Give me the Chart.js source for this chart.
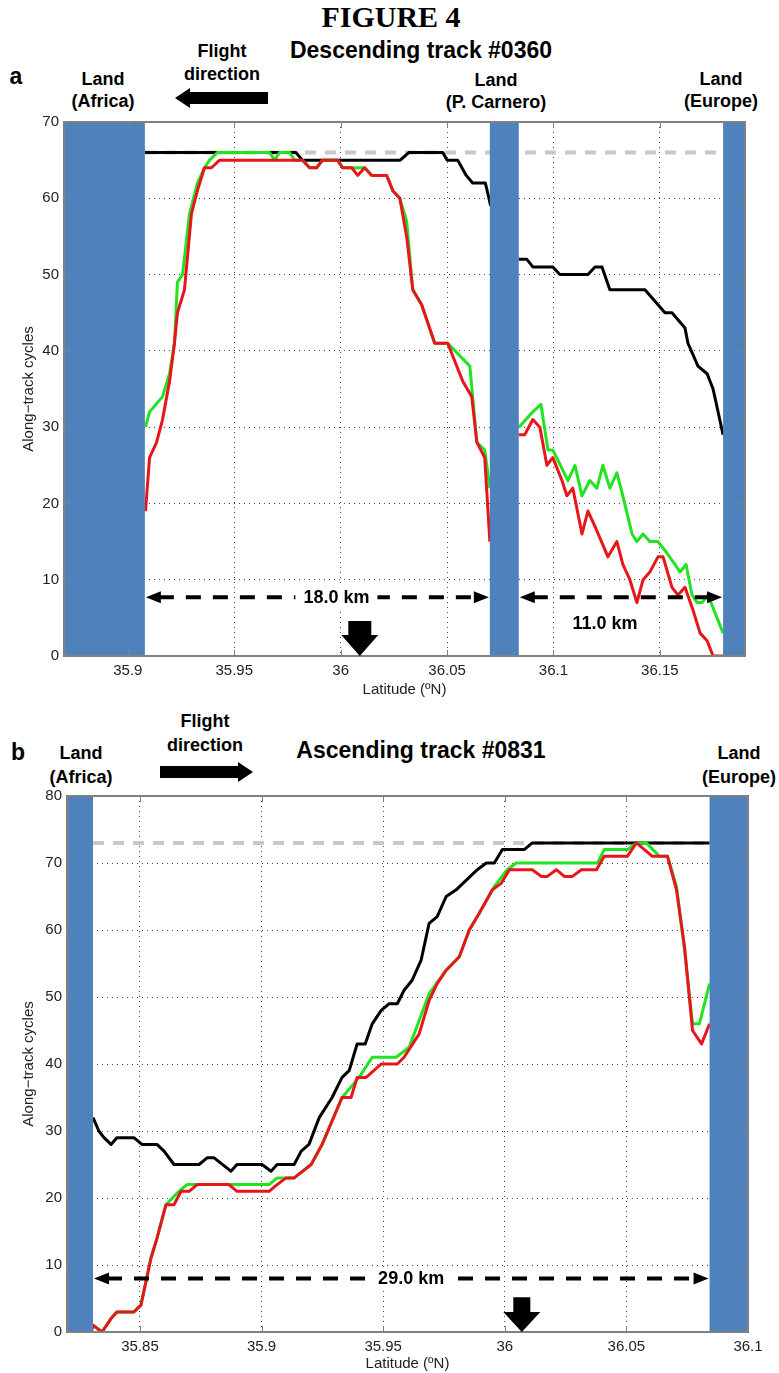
<!DOCTYPE html>
<html lang="en">
<head>
<meta charset="UTF-8">
<title>Figure 4 | Along-track cycles</title>
<style>
  body { margin: 0; background: #fff; }
  #fig { position: relative; width: 779px; height: 1373px; font-family: "Liberation Sans", Arial, sans-serif; color: #000; }
  .lbl { position: absolute; font-weight: bold; text-align: center; white-space: nowrap; transform: translateX(-50%); }
  .box { position: absolute; left: 0; width: 779px; }
  svg { position: absolute; left: 0; top: 0; }
</style>
</head>
<body>
<div id="fig">
  <div class="lbl" style="left:391px;top:1px;font-family:'Liberation Serif',serif;font-size:30px;line-height:32px">FIGURE 4</div>

  <div class="lbl" style="left:16px;top:63px;font-size:23px;line-height:26px">a</div>
  <div class="lbl" style="left:421px;top:37px;font-size:23px;line-height:26px">Descending track #0360</div>
  <div class="lbl" style="left:222px;top:40px;font-size:18px;line-height:23px">Flight<br>direction</div>
  <div class="lbl" style="left:103px;top:68px;font-size:18px;line-height:22px">Land<br>(Africa)</div>
  <div class="lbl" style="left:496px;top:69px;font-size:18px;line-height:22px">Land<br>(P. Carnero)</div>
  <div class="lbl" style="left:721px;top:68px;font-size:18px;line-height:22px">Land<br>(Europe)</div>

  <div class="lbl" style="left:18px;top:739px;font-size:23px;line-height:26px">b</div>
  <div class="lbl" style="left:421px;top:737px;font-size:23px;line-height:26px">Ascending track #0831</div>
  <div class="lbl" style="left:205px;top:709px;font-size:18px;line-height:24px">Flight<br>direction</div>
  <div class="lbl" style="left:81px;top:741px;font-size:18px;line-height:24px">Land<br>(Africa)</div>
  <div class="lbl" style="left:739px;top:741px;font-size:18px;line-height:24px">Land<br>(Europe)</div>

  <svg width="779" height="800">
    <polygon points="175,98 190,88 190,92 268,92 268,104 190,104 190,108" fill="#000"/>
    <polygon points="253,772 238,762 238,766 160,766 160,778 238,778 238,782" fill="#000"/>
  </svg>

  <div class="box" style="top:100px;height:610px"><canvas id="chartA" width="779" height="610"></canvas></div>
  <div class="box" style="top:760px;height:613px"><canvas id="chartB" width="779" height="613"></canvas></div>
</div>

<script src="https://cdn.jsdelivr.net/npm/chart.js"></script>
<script>
// ---- panel a: descending track #0360 ----
var xTicksA = [35.9, 35.95, 36, 36.05, 36.1, 36.15];
var yTicksA = [0, 10, 20, 30, 40, 50, 60, 70];

var blackLatA1 = [35.908, 35.979, 35.982, 36.028, 36.032, 36.048, 36.050, 36.055, 36.059, 36.062, 36.068, 36.0705];
var blackValA1 = [66, 66, 65, 65, 66, 66, 65, 65, 63, 62, 62, 59];
var blackLatA2 = [36.0837, 36.0875, 36.0903, 36.0997, 36.1030, 36.1162, 36.1195, 36.1228, 36.1265, 36.1430, 36.1524, 36.1557, 36.1618, 36.1632, 36.1679, 36.1722, 36.1750, 36.1797];
var blackValA2 = [52, 52, 51, 51, 50, 50, 51, 51, 48, 48, 45, 45, 43, 41, 38, 37, 35, 29];

var greenLatA1 = [35.9083, 35.9102, 35.9163, 35.9196, 35.9219, 35.9233, 35.9257, 35.9290, 35.9327, 35.9360, 35.9384, 35.9421, 35.9666, 35.9690, 35.9713, 35.9760, 35.9784, 35.9821, 35.9854, 35.9887, 35.9915, 35.9986, 36.0009, 36.0113, 36.0146, 36.0216, 36.0245, 36.0278, 36.0310, 36.0339, 36.0381, 36.0442, 36.0503, 36.0607, 36.0640, 36.0677, 36.0701];
var greenValA1 = [30, 32, 34, 37, 41, 49, 50, 58, 62, 64, 65, 66, 66, 65, 66, 66, 65, 65, 64, 64, 65, 65, 64, 64, 63, 63, 61, 60, 57, 48, 46, 41, 41, 38, 28, 27, 22];
var greenLatA2 = [36.0837, 36.0903, 36.0941, 36.0974, 36.0997, 36.1068, 36.1101, 36.1134, 36.1171, 36.1204, 36.1232, 36.1265, 36.1298, 36.1326, 36.1369, 36.1392, 36.1421, 36.1453, 36.1491, 36.1533, 36.1571, 36.1595, 36.1623, 36.1651, 36.1675, 36.1698, 36.1726, 36.1797];
var greenValA2 = [30, 32, 33, 27, 27, 23, 25, 21, 23, 22, 25, 22, 24, 21, 16, 15, 16, 15, 15, 13.5, 12, 11, 12, 8, 7, 7, 8, 3];

var redLatA1 = [35.9083, 35.9102, 35.9135, 35.9163, 35.9196, 35.9219, 35.9233, 35.9266, 35.9299, 35.9327, 35.9360, 35.9393, 35.9431, 35.9821, 35.9854, 35.9887, 35.9915, 35.9986, 36.0009, 36.0052, 36.0080, 36.0113, 36.0146, 36.0216, 36.0245, 36.0278, 36.0310, 36.0339, 36.0381, 36.0442, 36.0503, 36.0574, 36.0616, 36.0640, 36.0677, 36.0701];
var redValA1 = [19, 26, 28, 31, 36, 41, 45, 48, 58, 61, 64, 64, 65, 65, 64, 64, 65, 65, 64, 64, 63, 64, 63, 63, 61, 60, 55, 48, 46, 41, 41, 36, 34, 28, 26, 15];
var redLatA2 = [36.0837, 36.0865, 36.0903, 36.0936, 36.0969, 36.0997, 36.1040, 36.1063, 36.1091, 36.1134, 36.1162, 36.1195, 36.1256, 36.1298, 36.1326, 36.1359, 36.1392, 36.1421, 36.1453, 36.1491, 36.1515, 36.1557, 36.1585, 36.1618, 36.1656, 36.1689, 36.1722, 36.1750, 36.1797];
var redValA2 = [29, 29, 31, 30, 25, 26, 23, 21, 22, 16, 19, 17, 13, 15, 12, 10, 7, 10, 11, 13, 13, 9, 8, 9, 6, 3, 2, 0, 0];

var refLatA = [35.908, 36.19];
var refValA = [66, 66];
var landA = [[35.87, 35.908], [36.0701, 36.0837], [36.1797, 36.19]];

// ---- panel b: ascending track #0831 ----
var xTicksB = [35.85, 35.9, 35.95, 36, 36.05, 36.1];
var yTicksB = [0, 10, 20, 30, 40, 50, 60, 70, 80];

var blackLatB = [35.8307, 35.8331, 35.8352, 35.8381, 35.8405, 35.8475, 35.8508, 35.8570, 35.8599, 35.8640, 35.8743, 35.8776, 35.8805, 35.8874, 35.8899, 35.9002, 35.9039, 35.9064, 35.9134, 35.9163, 35.9195, 35.9237, 35.9290, 35.9331, 35.9360, 35.9393, 35.9426, 35.9455, 35.9492, 35.9525, 35.9558, 35.9586, 35.9619, 35.9656, 35.9689, 35.9722, 35.9759, 35.9800, 35.9887, 35.9924, 35.9957, 35.9990, 36.0080, 36.0113, 36.0842];
var blackValB = [32, 30, 29, 28, 29, 29, 28, 28, 27, 25, 25, 26, 26, 24, 25, 25, 24, 25, 25, 27, 28, 32, 35, 38, 39, 43, 43, 46, 48, 49, 49, 51, 52.5, 55.5, 61, 62, 65, 66, 69, 70, 70, 72, 72, 73, 73];

var greenLatB = [35.8307, 35.8344, 35.8381, 35.8405, 35.8475, 35.8504, 35.8545, 35.8570, 35.8607, 35.8660, 35.8693, 35.9031, 35.9064, 35.9134, 35.9204, 35.9249, 35.9331, 35.9401, 35.9455, 35.9553, 35.9607, 35.9689, 35.9759, 35.9813, 35.9854, 35.9895, 35.9957, 36.0010, 36.0047, 36.0381, 36.0409, 36.0504, 36.0541, 36.0582, 36.0636, 36.0669, 36.0706, 36.0739, 36.0772, 36.0800, 36.0842];
var greenValB = [1, 0, 2, 3, 3, 4, 11, 14, 19, 21, 22, 22, 23, 23, 25, 28, 35, 38, 41, 41, 42.5, 50.5, 54, 56, 60, 62.5, 66.5, 69, 70, 70, 72, 72, 73, 73, 71, 71, 66.5, 57, 46, 46, 52];

var redLatB = [35.82, 35.8300, 35.8307, 35.8344, 35.8381, 35.8405, 35.8475, 35.8504, 35.8545, 35.8570, 35.8607, 35.8640, 35.8669, 35.8702, 35.8735, 35.8866, 35.8899, 35.9031, 35.9064, 35.9101, 35.9134, 35.9204, 35.9249, 35.9331, 35.9368, 35.9393, 35.9430, 35.9492, 35.9558, 35.9586, 35.9648, 35.9689, 35.9722, 35.9759, 35.9813, 35.9854, 35.9895, 35.9949, 35.9986, 36.0019, 36.0113, 36.0150, 36.0175, 36.0212, 36.0245, 36.0278, 36.0315, 36.0377, 36.0409, 36.0504, 36.0541, 36.0607, 36.0669, 36.0706, 36.0739, 36.0772, 36.0809, 36.0842];
var redValB = [0, 0, 1, 0, 2, 3, 3, 4, 11, 14, 19, 19, 21, 21, 22, 22, 21, 21, 22, 23, 23, 25, 28, 35, 35, 38, 38, 40, 40, 41, 44.5, 49.5, 52, 54, 56, 60, 62.5, 66, 67, 69, 69, 68, 68, 69, 68, 68, 69, 69, 71, 71, 73, 71, 71, 66, 57.5, 45, 43, 46];

var refLatB = [35.8307, 36.0842];
var refValB = [73, 73];
var landB = [[35.82, 35.8307], [36.0842, 36.1]];

// distance annotations: from, to, level, text, text position
var spansA = [
  { from: 35.908, to: 36.0701, at: 7.7, text: '18.0 km', textAt: 35.998, textY: 7.7 },
  { from: 36.0837, to: 36.1797, at: 7.7, text: '11.0 km', textAt: 36.1242, textY: 4.3 }
];
var spansB = [
  { from: 35.8307, to: 36.0842, at: 8, text: '29.0 km', textAt: 35.9615, textY: 8 }
];
var dropA = { at: 36.009, top: 4.6, neck: 2.75 };
var dropB = { at: 36.007, top: 5.2, neck: 3.0 };

function pts(lats, vals) {
  var out = [];
  for (var i = 0; i < lats.length; i++) out.push({ x: lats[i], y: vals[i] });
  return out;
}
function gap(a, b) {
  return a.concat([{ x: (a[a.length - 1].x + b[0].x) / 2, y: null }], b);
}

function drawSpan(ctx, x, y, s) {
  var x0 = x.getPixelForValue(s.from), x1 = x.getPixelForValue(s.to), yy = y.getPixelForValue(s.at);
  ctx.strokeStyle = '#000';
  ctx.lineWidth = 4;
  ctx.setLineDash([15, 12]);
  ctx.beginPath();
  ctx.moveTo(x0 + 14, yy);
  ctx.lineTo(x1 - 14, yy);
  ctx.stroke();
  ctx.setLineDash([]);
  ctx.fillStyle = '#000';
  ctx.beginPath();
  ctx.moveTo(x0 + 1, yy); ctx.lineTo(x0 + 16, yy - 6); ctx.lineTo(x0 + 16, yy + 6); ctx.closePath();
  ctx.moveTo(x1 - 1, yy); ctx.lineTo(x1 - 16, yy - 6); ctx.lineTo(x1 - 16, yy + 6); ctx.closePath();
  ctx.fill();

  ctx.font = 'bold 18px "Liberation Sans", Arial, sans-serif';
  var tx = x.getPixelForValue(s.textAt), ty = y.getPixelForValue(s.textY);
  var w = ctx.measureText(s.text).width;
  if (s.textY === s.at) {
    ctx.fillStyle = '#fff';
    ctx.fillRect(tx - w / 2 - 8, ty - 11, w + 16, 22);
  }
  ctx.fillStyle = '#000';
  ctx.textAlign = 'center';
  ctx.textBaseline = 'middle';
  ctx.fillText(s.text, tx, ty + 1);
}

function drawDrop(ctx, x, y, d, shaftW, headW) {
  var cx = x.getPixelForValue(d.at);
  var y0 = y.getPixelForValue(d.top), y1 = y.getPixelForValue(d.neck), y2 = y.getPixelForValue(0);
  ctx.fillStyle = '#000';
  ctx.beginPath();
  ctx.moveTo(cx - shaftW / 2, y0);
  ctx.lineTo(cx + shaftW / 2, y0);
  ctx.lineTo(cx + shaftW / 2, y1);
  ctx.lineTo(cx + headW / 2, y1);
  ctx.lineTo(cx, y2);
  ctx.lineTo(cx - headW / 2, y1);
  ctx.lineTo(cx - shaftW / 2, y1);
  ctx.closePath();
  ctx.fill();
}

// land masks, box frame, inner ticks, distance arrows
var figDecor = {
  id: 'figDecor',
  afterDatasetsDraw: function (chart, args, o) {
    var ctx = chart.ctx, a = chart.chartArea, x = chart.scales.x, y = chart.scales.y;
    ctx.save();
    ctx.fillStyle = '#4f81bd';
    o.land.forEach(function (r) {
      var p0 = x.getPixelForValue(r[0]), p1 = x.getPixelForValue(r[1]);
      ctx.fillRect(p0, a.top, p1 - p0, a.bottom - a.top);
    });

    ctx.strokeStyle = '#808080';
    ctx.lineWidth = 1;
    ctx.beginPath();
    x.ticks.forEach(function (t) {
      var px = Math.round(x.getPixelForValue(t.value)) + 0.5;
      ctx.moveTo(px, a.bottom); ctx.lineTo(px, a.bottom - 6);
      ctx.moveTo(px, a.top); ctx.lineTo(px, a.top + 6);
    });
    y.ticks.forEach(function (t) {
      var py = Math.round(y.getPixelForValue(t.value)) + 0.5;
      ctx.moveTo(a.left, py); ctx.lineTo(a.left + 6, py);
      ctx.moveTo(a.right, py); ctx.lineTo(a.right - 6, py);
    });
    ctx.stroke();
    ctx.lineWidth = 2;
    ctx.strokeRect(a.left, a.top, a.right - a.left, a.bottom - a.top);

    o.spans.forEach(function (s) { drawSpan(ctx, x, y, s); });
    drawDrop(ctx, x, y, o.drop, o.dropShaft, o.dropHead);
    ctx.restore();
  }
};

function makeChart(id, p) {
  return new Chart(document.getElementById(id), {
    type: 'line',
    data: {
      datasets: [
        { data: p.red, borderColor: '#e8151b', borderWidth: 3, order: 1 },
        { data: p.green, borderColor: '#22e322', borderWidth: 3, order: 2 },
        { data: p.black, borderColor: '#000000', borderWidth: 3, order: 3 },
        { data: p.ref, borderColor: '#c8c8c8', borderWidth: 4, borderDash: [11, 9], order: 4 }
      ]
    },
    options: {
      responsive: false,
      animation: false,
      spanGaps: false,
      elements: { point: { radius: 0 }, line: { tension: 0, borderCapStyle: 'butt', borderJoinStyle: 'round' } },
      layout: { padding: p.pad },
      plugins: {
        legend: { display: false },
        tooltip: { enabled: false },
        figDecor: { land: p.land, spans: p.spans, drop: p.drop, dropShaft: p.dropShaft, dropHead: 37 }
      },
      scales: {
        x: {
          type: 'linear', min: p.xMin, max: p.xMax,
          afterBuildTicks: function (s) { s.ticks = p.xTicks.map(function (v) { return { value: v }; }); },
          afterFit: function (s) { s.height = p.xAxisH; },
          ticks: { autoSkip: false, maxRotation: 0, padding: p.xTickPad, color: '#222', font: { size: 15 },
                   callback: function (v) { return String(v); } },
          grid: { color: '#444', lineWidth: 1, drawTicks: false },
          border: { display: false, dash: [1, 4] },
          title: { display: true, text: 'Latitude (ºN)', color: '#222', font: { size: 15 }, padding: { top: 0, bottom: p.xTitlePad } }
        },
        y: {
          type: 'linear', min: 0, max: p.yMax,
          afterBuildTicks: function (s) { s.ticks = p.yTicks.map(function (v) { return { value: v }; }); },
          afterFit: function (s) { s.width = p.yAxisW; },
          ticks: { padding: 5, color: '#222', font: { size: 15 } },
          grid: { color: '#444', lineWidth: 1, drawTicks: false },
          border: { display: false, dash: [1, 4] },
          title: { display: true, text: 'Along\u2212track cycles', color: '#222', font: { size: 15 }, padding: { top: 20, bottom: 0 } }
        }
      }
    },
    plugins: [figDecor]
  });
}

makeChart('chartA', {
  red: gap(pts(redLatA1, redValA1), pts(redLatA2, redValA2)),
  green: gap(pts(greenLatA1, greenValA1), pts(greenLatA2, greenValA2)),
  black: gap(pts(blackLatA1, blackValA1), pts(blackLatA2, blackValA2)),
  ref: pts(refLatA, refValA),
  land: landA, spans: spansA, drop: dropA, dropShaft: 23,
  xMin: 35.87, xMax: 36.19, yMax: 70, xTicks: xTicksA, yTicks: yTicksA,
  pad: { top: 22, right: 34, left: 0, bottom: 0 },
  xAxisH: 54, yAxisW: 64, xTickPad: 6, xTitlePad: 11
});

makeChart('chartB', {
  red: pts(redLatB, redValB),
  green: pts(greenLatB, greenValB),
  black: pts(blackLatB, blackValB),
  ref: pts(refLatB, refValB),
  land: landB, spans: spansB, drop: dropB, dropShaft: 17,
  xMin: 35.82, xMax: 36.1, yMax: 80, xTicks: xTicksB, yTicks: yTicksB,
  pad: { top: 36, right: 31, left: 0, bottom: 0 },
  xAxisH: 41, yAxisW: 67, xTickPad: 6, xTitlePad: 0
});
</script>
</body>
</html>
